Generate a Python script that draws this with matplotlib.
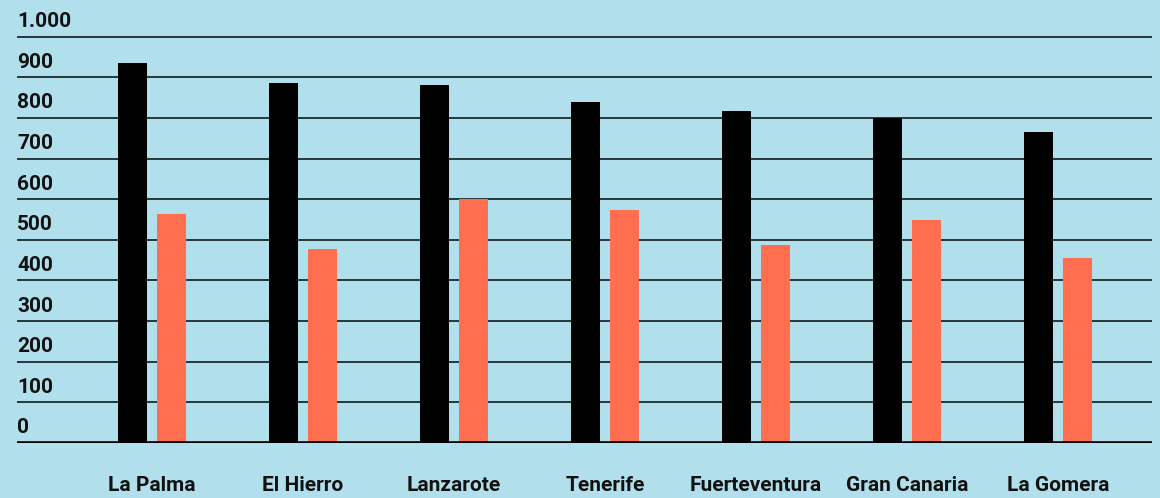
import matplotlib.pyplot as plt
import matplotlib.transforms as mtransforms
import numpy as np

islands = ['La Palma', 'El Hierro', 'Lanzarote', 'Tenerife', 'Fuerteventura',
           'Gran Canaria', 'La Gomera']
serie_negra = [936, 887, 882, 840, 818, 800, 766]
serie_coral = [564, 478, 600, 574, 488, 549, 456]
yticks = [0, 100, 200, 300, 400, 500, 600, 700, 800, 900, 1000]
ytick_labels = ['0', '100', '200', '300', '400', '500', '600', '700', '800', '900', '1.000']

bg = '#b1e0ec'
coral = '#ff6e4f'

plt.rcParams['font.family'] = ['Roboto', 'DejaVu Sans']

fig = plt.figure(figsize=(11.6, 4.98), dpi=100, facecolor=bg)
ax = fig.add_axes([0.01466, 0.1104, 0.9783, 0.8896], facecolor=bg)

x = np.arange(len(islands))
w = 0.192
off = 0.129
ax.bar(x - off, serie_negra, width=w, color='black', zorder=3)
ax.bar(x + off, serie_coral, width=w, color=coral, zorder=3)

ax.set_xlim(-0.894, 6.623)
ax.set_ylim(0, 1090)

for v in yticks[1:]:
    ax.axhline(v, color='#1c2a2e', lw=1.3, zorder=1)
ax.axhline(0, color='black', lw=2.6, zorder=4)

trans = mtransforms.offset_copy(ax.get_yaxis_transform(), fig=fig, x=0, y=4, units='points')
for v, lab in zip(yticks, ytick_labels):
    ax.text(0, v, lab, transform=trans, ha='left', va='bottom',
            fontsize=15, fontweight='bold', color='#111111')

ax.set_yticks([])
ax.set_xticks(x)
ax.set_xticklabels(islands, fontsize=15, fontweight='bold', color='#111111')
ax.tick_params(axis='x', length=0, pad=24)
for s in ax.spines.values():
    s.set_visible(False)

fig.savefig('out.png', dpi=100, facecolor=bg)
